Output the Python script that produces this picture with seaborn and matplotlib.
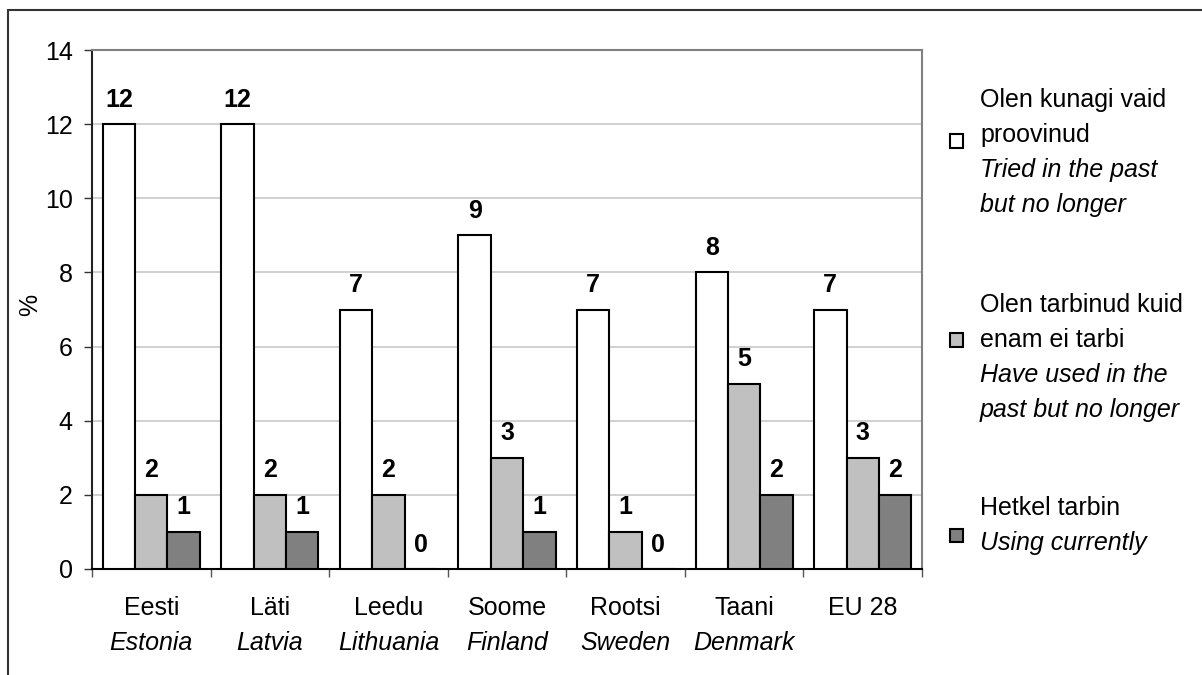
import matplotlib
matplotlib.use("Agg")
import matplotlib.pyplot as plt
import matplotlib.transforms as mtransforms
from matplotlib.lines import Line2D
from matplotlib.patches import Rectangle
import seaborn as sns
import pandas as pd

# data
countries_et = ["Eesti", "Läti", "Leedu", "Soome", "Rootsi", "Taani", "EU 28"]
countries_en = ["Estonia", "Latvia", "Lithuania", "Finland", "Sweden", "Denmark", ""]
tried = [12, 12, 7, 9, 7, 8, 7]
used_past = [2, 2, 2, 3, 1, 5, 3]
using_now = [1, 1, 0, 1, 0, 2, 2]
series_names = ["tried", "used_past", "using_now"]
legend_et = ["Olen kunagi vaid\nproovinud", "Olen tarbinud kuid\nenam ei tarbi", "Hetkel tarbin"]
legend_en = ["Tried in the past\nbut no longer", "Have used in the\npast but no longer", "Using currently"]
colors = ["#ffffff", "#c0c0c0", "#808080"]

rows = []
for i, c in enumerate(countries_et):
    for s, vals in zip(series_names, [tried, used_past, using_now]):
        rows.append({"country": c, "series": s, "value": vals[i]})
df = pd.DataFrame(rows)

sns.set_style("white")
plt.rcParams["font.family"] = ["Liberation Sans", "DejaVu Sans"]
plt.rcParams["text.color"] = "black"
plt.rcParams["ytick.color"] = "black"
plt.rcParams["xtick.color"] = "black"
FS = 18

W, H = 1202, 675
fig = plt.figure(figsize=(W / 100, H / 100), dpi=100)
ax = fig.add_axes([92 / W, (H - 569) / H, 830 / W, 519 / H])

sns.barplot(data=df, x="country", y="value", hue="series", hue_order=series_names,
            palette=colors, saturation=1, edgecolor="black", linewidth=1.5,
            width=0.82, legend=False, ax=ax, zorder=3)

for cont in ax.containers:
    ax.bar_label(cont, fmt="%d", padding=9, fontsize=FS, fontweight="bold", color="black")

ax.set_ylim(0, 14)
ax.set_xlim(-0.5, len(countries_et) - 0.5)
ax.set_yticks(range(0, 15, 2))
ax.yaxis.grid(True, color="#c8c8c8", linewidth=1.2, zorder=0)
ax.set_axisbelow(True)
ax.tick_params(axis="y", labelsize=FS, length=6, width=1, color="#333333",
               labelcolor="black", left=True, pad=8)
ax.set_xticks([i - 0.5 for i in range(len(countries_et) + 1)])
ax.set_xticklabels([])
ax.tick_params(axis="x", length=6, width=1, color="#555555", bottom=True)
ax.set_xlabel("")
ax.set_ylabel("")
fig.text(30 / W, 1 - 305 / H, "%", rotation=90, ha="center", va="center", fontsize=FS)

for side in ["top", "right"]:
    ax.spines[side].set_color("#808080")
    ax.spines[side].set_linewidth(1.5)
ax.spines["left"].set_color("#222222")
ax.spines["bottom"].set_color("#000000")
ax.spines["left"].set_linewidth(1.5)
ax.spines["bottom"].set_linewidth(1.5)

trans = mtransforms.blended_transform_factory(ax.transData, fig.transFigure)
for i, (et, en) in enumerate(zip(countries_et, countries_en)):
    ax.text(i, 1 - 608 / H, et, transform=trans, ha="center", va="center", fontsize=FS)
    ax.text(i, 1 - 643 / H, en, transform=trans, ha="center", va="center",
            fontsize=FS, style="italic")

# legend on the right
sq_y = [141, 340, 535]
et_y = [100, 305, 508]
for k in range(3):
    fig.patches.append(Rectangle((950 / W, 1 - (sq_y[k] + 6.5) / H), 13 / W, 13 / H,
                                 transform=fig.transFigure, facecolor=colors[k],
                                 edgecolor="black", linewidth=1.5))
    y = et_y[k]
    for ln in legend_et[k].split("\n"):
        fig.text(980 / W, 1 - y / H, ln, ha="left", va="center", fontsize=FS)
        y += 35
    for ln in legend_en[k].split("\n"):
        fig.text(980 / W, 1 - y / H, ln, ha="left", va="center", fontsize=FS,
                 style="italic")
        y += 35

# outer frame (left and top edges)
fig.add_artist(Line2D([8 / W, 8 / W], [0, 1 - 10 / H], transform=fig.transFigure,
                      color="#333333", linewidth=1.5))
fig.add_artist(Line2D([8 / W, 1], [1 - 10 / H, 1 - 10 / H], transform=fig.transFigure,
                      color="#333333", linewidth=1.5))

fig.savefig("out.png", dpi=100)
